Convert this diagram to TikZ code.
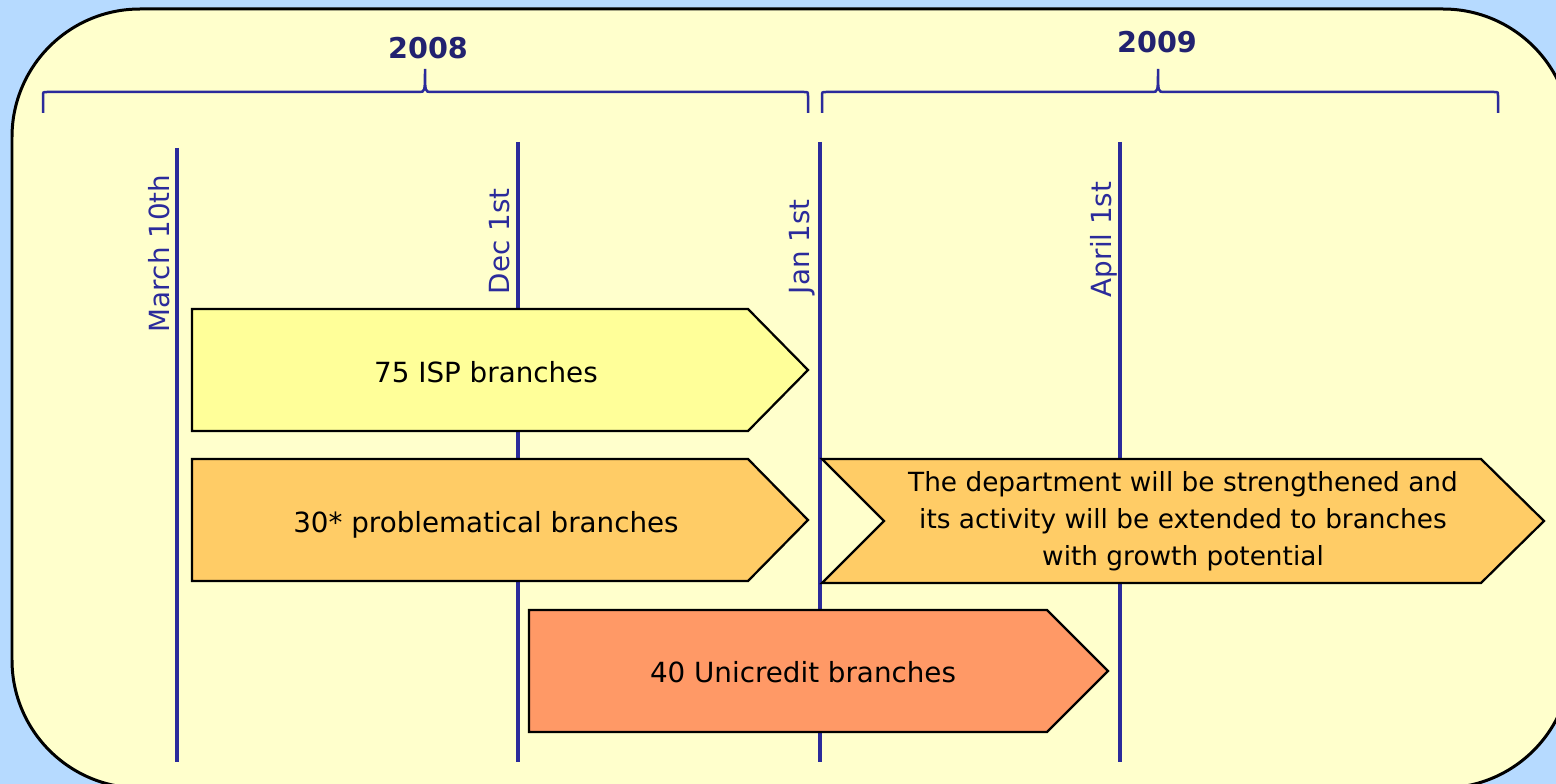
\documentclass[tikz,border=0pt]{standalone}
\usepackage{fontspec}
\setmainfont{DejaVu Sans}
\usepackage{xcolor}
\usepackage{tikz}
\usetikzlibrary{positioning}
\definecolor{skyback}{RGB}{182,218,255}
\definecolor{panelfill}{RGB}{255,255,204}
\definecolor{ispfill}{RGB}{255,255,153}
\definecolor{probfill}{RGB}{255,204,102}
\definecolor{unifill}{RGB}{255,153,102}
\definecolor{dateline}{RGB}{43,43,155}
\definecolor{yeartext}{RGB}{34,34,112}

\begin{document}
\begin{tikzpicture}[x=0.02cm,y=-0.02cm,
    every node/.style={inner sep=0,outer sep=0,font=\fontsize{15.8}{19}\selectfont},
    datelab/.style={rotate=90,anchor=base west,text=dateline},
    yearlab/.style={anchor=base,text=yeartext,font=\fontsize{16.3}{19}\selectfont\bfseries},
    bracket/.style={draw=dateline,line width=0.05cm},
    period/.style={draw=black,line width=0.045cm},
    timeline/.style={draw=dateline,line width=0.065cm}]
    \fill[skyback] (0,0) rectangle (1556,784);
    \useasboundingbox (0,0) rectangle (1556,784);
    \clip (0,0) rectangle (1556,784);
    \filldraw[fill=panelfill,draw=black,line width=0.06cm,rounded corners=2.56cm] (12,9) rectangle (1571,788);
    % time lines
    \coordinate (M1) at (177,148); \coordinate (M2) at (177,762);
    \coordinate (D1) at (518,142); \coordinate (D2) at (518,762);
    \coordinate (J1) at (820,142); \coordinate (J2) at (820,762);
    \coordinate (A1) at (1120,142); \coordinate (A2) at (1120,762);
    \draw[timeline] (M1) -- (M2) (D1) -- (D2) (J1) -- (J2) (A1) -- (A2);
    \node (L1) [datelab] at (169,332) {March 10th};
    \node (L2) [datelab] at (509,294) {Dec 1st};
    \node (L3) [datelab] at (809,294) {Jan 1st};
    \node (L4) [datelab] at (1111,297) {April 1st};
    % years
    \node (Y8) [yearlab] at (428,59) {2008};
    \node (Y9) [yearlab] at (1157,53) {2009};
    \draw[bracket] (43,113) -- (43,96) .. controls (43,92) .. (47,92) -- (419,92)
        .. controls (425,92) .. (425,69) .. controls (425,92) .. (431,92) -- (804,92)
        .. controls (808,92) .. (808,96) -- (808,113);
    \draw[bracket] (822,113) -- (822,96) .. controls (822,92) .. (826,92) -- (1152,92)
        .. controls (1158,92) .. (1158,69) .. controls (1158,92) .. (1164,92) -- (1494,92)
        .. controls (1498,92) .. (1498,96) -- (1498,113);
    % periods
    \draw[period,fill=ispfill] (192,309) -- (748,309) -- (808,370) -- (748,431) -- (192,431) -- cycle;
    \draw[period,fill=probfill] (192,459) -- (748,459) -- (808,520) -- (748,581) -- (192,581) -- cycle;
    \draw[period,fill=probfill] (822,459) -- (1481,459) -- (1544,521) -- (1481,583) -- (822,583) -- (884,521) -- cycle;
    \draw[period,fill=unifill] (529,610) -- (1047,610) -- (1108,671) -- (1047,732) -- (529,732) -- cycle;
    \node (B1) [anchor=base] at (486,382) {75 ISP branches};
    \node (B2) [anchor=base] at (486,532) {30* problematical branches};
    \node (B3) [align=center,font=\fontsize{15}{21}\selectfont] at (1183,521) {The department will be strengthened and\\its activity will be extended to branches\\with growth potential};
    \node (B4) [anchor=base] at (803,682) {40 Unicredit branches};
\end{tikzpicture}
\end{document}
